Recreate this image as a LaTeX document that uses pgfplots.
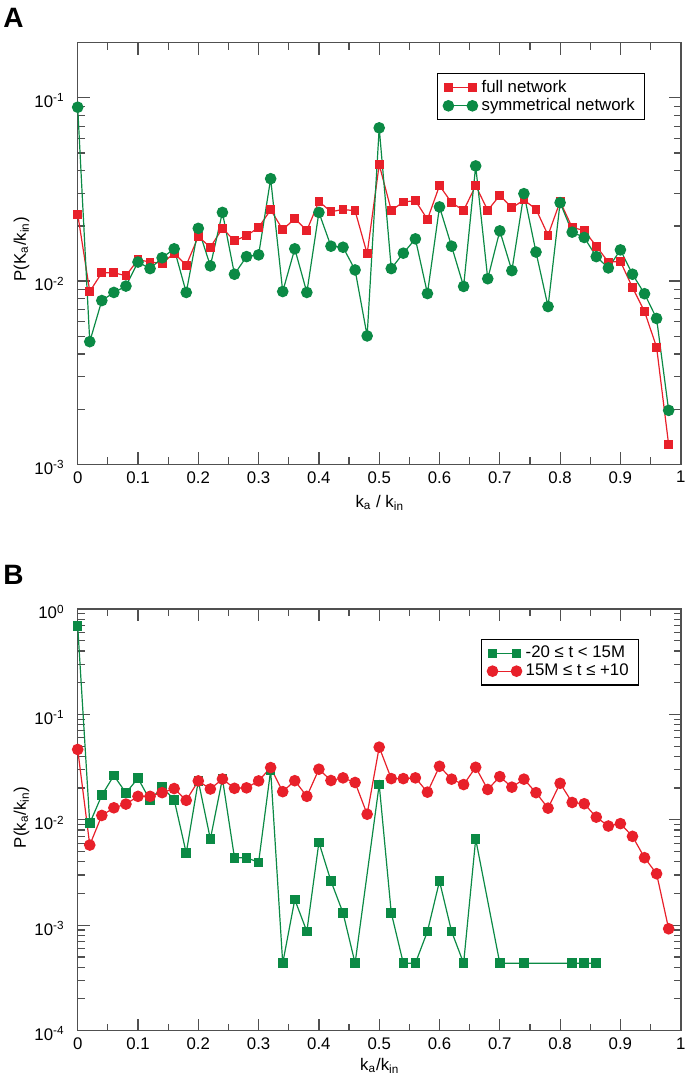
\documentclass[border=0pt]{standalone}
\usepackage{fontspec}
\setmainfont{Liberation Sans}
\usepackage{pgfplots}
\pgfplotsset{compat=1.18}
\definecolor{myred}{HTML}{E8202A}
\definecolor{mygreen}{HTML}{0B8A45}
\definecolor{axgray}{HTML}{505050}

\pgfplotstableread{
x y
0 0.0232
0.02 0.00877
0.04 0.0111
0.06 0.0111
0.08 0.0107
0.10 0.0131
0.12 0.0127
0.14 0.0125
0.16 0.0142
0.18 0.0122
0.20 0.0175
0.22 0.0153
0.24 0.0194
0.26 0.0166
0.28 0.0177
0.30 0.0196
0.32 0.0245
0.34 0.0191
0.36 0.0219
0.38 0.0189
0.40 0.0272
0.42 0.0239
0.44 0.0246
0.46 0.0242
0.48 0.0141
0.50 0.0432
0.52 0.0243
0.54 0.0270
0.56 0.0275
0.58 0.0217
0.60 0.0332
0.62 0.0268
0.64 0.0243
0.66 0.0332
0.68 0.0243
0.70 0.0294
0.72 0.0251
0.74 0.0277
0.76 0.0247
0.78 0.0178
0.80 0.0272
0.82 0.0196
0.84 0.0189
0.86 0.0155
0.88 0.0127
0.90 0.0128
0.92 0.00922
0.94 0.00682
0.96 0.00436
0.98 0.00128
}\fullnet

\pgfplotstableread{
x y
0 0.0889
0.02 0.00467
0.04 0.00783
0.06 0.00867
0.08 0.00939
0.10 0.0127
0.12 0.0117
0.14 0.0134
0.16 0.0150
0.18 0.00867
0.20 0.0194
0.22 0.0121
0.24 0.0237
0.26 0.0109
0.28 0.0136
0.30 0.0139
0.32 0.0362
0.34 0.00877
0.36 0.0150
0.38 0.00867
0.40 0.0237
0.42 0.0155
0.44 0.0153
0.46 0.0115
0.48 0.00502
0.50 0.0686
0.52 0.0117
0.54 0.0142
0.56 0.0170
0.58 0.00855
0.60 0.0254
0.62 0.0155
0.64 0.00935
0.66 0.0425
0.68 0.0103
0.70 0.0188
0.72 0.0114
0.74 0.0300
0.76 0.0144
0.78 0.00726
0.80 0.0268
0.82 0.0185
0.84 0.0173
0.86 0.0136
0.88 0.0118
0.90 0.0148
0.92 0.0109
0.94 0.00853
0.96 0.00625
0.98 0.00197
}\symnet

\pgfplotstableread{
x y
0 0.690
0.02 0.00927
0.04 0.0171
0.06 0.0263
0.08 0.0180
0.10 0.0248
0.12 0.0153
0.14 0.0205
0.16 0.0155
0.18 0.00484
0.20 0.0234
0.22 0.00657
0.24 0.0246
0.26 0.00437
0.28 0.00437
0.30 0.00395
0.32 0.0295
0.34 0.000436
0.36 0.00175
0.38 0.000873
0.40 0.00611
0.42 0.00262
0.44 0.00131
0.46 0.000436
0.50 0.0216
0.52 0.00131
0.54 0.000436
0.56 0.000436
0.58 0.000873
0.60 0.00262
0.62 0.000873
0.64 0.000436
0.66 0.00657
0.70 0.000436
0.74 0.000436
0.82 0.000436
0.84 0.000436
0.86 0.000436
}\early

\pgfplotstableread{
x y
0 0.0465
0.02 0.00576
0.04 0.0110
0.06 0.0130
0.08 0.0141
0.10 0.0167
0.12 0.0167
0.14 0.0181
0.16 0.0198
0.18 0.0153
0.20 0.0234
0.22 0.0196
0.24 0.0244
0.26 0.0199
0.28 0.0201
0.30 0.0234
0.32 0.0313
0.34 0.0185
0.36 0.0235
0.38 0.0167
0.40 0.0302
0.42 0.0236
0.44 0.0250
0.46 0.0226
0.48 0.0113
0.50 0.0489
0.52 0.0246
0.54 0.0246
0.56 0.0250
0.58 0.0183
0.60 0.0322
0.62 0.0243
0.64 0.0216
0.66 0.0315
0.68 0.0194
0.70 0.0257
0.72 0.0204
0.74 0.0243
0.76 0.0181
0.78 0.0129
0.80 0.0222
0.82 0.0146
0.84 0.0142
0.86 0.0106
0.88 0.00873
0.90 0.00920
0.92 0.00697
0.94 0.00437
0.96 0.00308
0.98 0.000925
}\late

\pgfplotsset{
  panel/.style={
    scale only axis, width=301.5pt, height=210.8pt,
    xmin=0, xmax=1,
    xtick={0,0.1,0.2,0.3,0.4,0.5,0.6,0.7,0.8,0.9,1},
    xticklabels={0,0.1,0.2,0.3,0.4,0.5,0.6,0.7,0.8,0.9,1},
    minor xtick={0.05,0.15,0.25,0.35,0.45,0.55,0.65,0.75,0.85,0.95},
    axis line style={axgray, line width=0.8pt},
    major tick length=6pt, minor tick length=3.5pt,
    every tick/.style={axgray, line width=0.6pt},
    tick align=inside,
    tick label style={font=\fontsize{8.4}{10}\selectfont},
    yticklabel style={yshift=-1.5pt, xshift=-3pt},
    label style={font=\fontsize{8.4}{10}\selectfont},
    legend style={font=\fontsize{8.4}{10}\selectfont, draw=black, line width=0.6pt,
      inner xsep=3pt, inner ysep=1.2pt, row sep=-2.5pt},
    legend cell align=left,
    legend image code/.code={\draw[mark repeat=2,mark phase=1,##1] plot coordinates {(0pt,0pt) (6pt,0pt) (12pt,0pt)};},
    every axis plot/.append style={line width=0.6pt},
  }
}

\begin{document}
\begin{tikzpicture}
\begin{semilogyaxis}[panel, at={(0,0)}, anchor=north west,
  ymin=1e-3, ymax=0.2,
  ytick={1e-3,1e-2,1e-1},
  yticklabels={10\textsuperscript{-3},10\textsuperscript{-2},10\textsuperscript{-1}},
  minor ytick={2e-3,3e-3,4e-3,5e-3,6e-3,7e-3,8e-3,9e-3,2e-2,3e-2,4e-2,5e-2,6e-2,7e-2,8e-2,9e-2,2e-1},
  xlabel={k\textsubscript{a} / k\textsubscript{in}},
  ylabel={P(K\textsubscript{a}/k\textsubscript{in})},
  xlabel style={at={(axis description cs:0.501,-0.092)}, anchor=center},
  ylabel style={at={(axis description cs:-0.093,0.51)}, anchor=center},
  legend style={at={(axis description cs:0.9413,0.928)}, anchor=north east},
]
\addplot[myred, mark=square*, mark size=1.9pt, mark options={solid}] table[x=x,y=y] {\fullnet};
\addlegendentry{full network}
\addplot[mygreen, mark=*, mark size=2.6pt, mark options={solid}] table[x=x,y=y] {\symnet};
\addlegendentry{symmetrical network}
\end{semilogyaxis}

\begin{semilogyaxis}[panel, at={(0,-283.15pt)}, anchor=north west,
  ymin=1e-4, ymax=1,
  ytick={1e-4,1e-3,1e-2,1e-1,1},
  yticklabels={10\textsuperscript{-4},10\textsuperscript{-3},10\textsuperscript{-2},10\textsuperscript{-1},10\textsuperscript{0}},
  minor ytick={2e-4,3e-4,4e-4,5e-4,6e-4,7e-4,8e-4,9e-4,2e-3,3e-3,4e-3,5e-3,6e-3,7e-3,8e-3,9e-3,2e-2,3e-2,4e-2,5e-2,6e-2,7e-2,8e-2,9e-2,2e-1,3e-1,4e-1,5e-1,6e-1,7e-1,8e-1,9e-1},
  xlabel={k\textsubscript{a}/k\textsubscript{in}},
  ylabel={P(k\textsubscript{a}/k\textsubscript{in})},
  xlabel style={at={(axis description cs:0.501,-0.083)}, anchor=center},
  ylabel style={at={(axis description cs:-0.093,0.506)}, anchor=center},
  legend style={at={(axis description cs:0.9313,0.9287)}, anchor=north east},
]
\addplot[mygreen, mark=square*, mark size=2.1pt, mark options={solid}] table[x=x,y=y] {\early};
\addlegendentry{-20 ≤ t < 15M}
\addplot[myred, mark=*, mark size=2.6pt, mark options={solid}] table[x=x,y=y] {\late};
\addlegendentry{15M ≤ t ≤ +10}
\end{semilogyaxis}

\node[anchor=north west, inner sep=0pt, font=\fontsize{14}{16}\selectfont\bfseries] at (-37.35pt,17.65pt) {A};
\node[anchor=north west, inner sep=0pt, font=\fontsize{14}{16}\selectfont\bfseries] at (-37.35pt,-261.15pt) {B};

\pgfresetboundingbox
\path[use as bounding box] (-38.85pt,21.35pt) rectangle (303.65pt,-518.15pt);
\end{tikzpicture}
\end{document}
